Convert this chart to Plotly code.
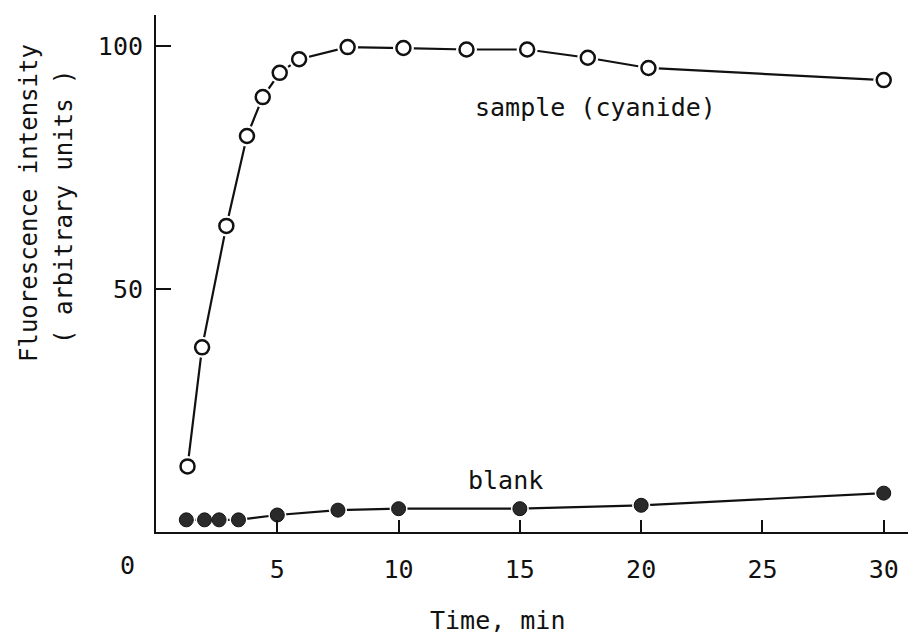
import plotly.graph_objects as go

# ---- data ----
sample_t = [1.3, 1.9, 2.9, 3.75, 4.4, 5.1, 5.9, 7.9, 10.2, 12.8, 15.3, 17.8, 20.3, 30]
sample_y = [13.5, 38, 63, 81.5, 89.5, 94.5, 97.3, 99.8, 99.6, 99.3, 99.3, 97.6, 95.5, 93]
blank_t = [1.25, 2.0, 2.6, 3.4, 5, 7.5, 10, 15, 20, 30]
blank_y = [2.5, 2.5, 2.5, 2.5, 3.5, 4.5, 4.8, 4.8, 5.5, 8]
x_ticks = [5, 10, 15, 20, 25, 30]
y_ticks = [50, 100]

FONT = "DejaVu Sans Mono"
INK = "#111111"
W, H = 908, 636
ML, MR, MT, MB = 156, 0, 15, 104

fig = go.Figure()

# connecting lines
fig.add_trace(go.Scatter(x=sample_t, y=sample_y, mode="lines",
                         line=dict(color=INK, width=2.2), hoverinfo="skip"))
fig.add_trace(go.Scatter(x=blank_t, y=blank_y, mode="lines",
                         line=dict(color=INK, width=2.2), hoverinfo="skip"))
# white halos (small gaps between line and markers)
fig.add_trace(go.Scatter(x=sample_t, y=sample_y, mode="markers",
                         marker=dict(size=21, color="white"), hoverinfo="skip"))
fig.add_trace(go.Scatter(x=blank_t, y=blank_y, mode="markers",
                         marker=dict(size=18, color="white"), hoverinfo="skip"))
# markers
fig.add_trace(go.Scatter(x=sample_t, y=sample_y, mode="markers", name="sample (cyanide)",
                         marker=dict(size=14, color="white", symbol="circle",
                                     line=dict(color=INK, width=2.5))))
fig.add_trace(go.Scatter(x=blank_t, y=blank_y, mode="markers", name="blank",
                         marker=dict(size=14, color="#2a2a2a", symbol="circle",
                                     line=dict(color=INK, width=1))))

def px_to_paper(px, py):
    pw = W - ML - MR
    ph = H - MT - MB
    return (px - ML) / pw, (H - MB - py) / ph

annos = []
# origin label
ox, oy = px_to_paper(127, 565)
annos.append(dict(x=ox, y=oy, xref="paper", yref="paper", text="0", showarrow=False,
                  xanchor="center", yanchor="middle", font=dict(family=FONT, size=25, color=INK)))
# x title
tx, ty = px_to_paper(497, 620)
annos.append(dict(x=tx, y=ty, xref="paper", yref="paper", text="Time, min", showarrow=False,
                  xanchor="center", yanchor="middle", font=dict(family=FONT, size=25, color=INK)))
# y title (two lines)
a1x, a1y = px_to_paper(29, 203)
annos.append(dict(x=a1x, y=a1y, xref="paper", yref="paper", text="Fluorescence intensity",
                  showarrow=False, textangle=-90, xanchor="center", yanchor="middle",
                  font=dict(family=FONT, size=24, color=INK)))
a2x, a2y = px_to_paper(64, 207)
annos.append(dict(x=a2x, y=a2y, xref="paper", yref="paper", text="( arbitrary units )",
                  showarrow=False, textangle=-90, xanchor="center", yanchor="middle",
                  font=dict(family=FONT, size=24, color=INK)))
# series labels
annos.append(dict(x=18.1, y=87.4, xref="x", yref="y", text="sample (cyanide)", showarrow=False,
                  xanchor="center", yanchor="middle", font=dict(family=FONT, size=25, color=INK)))
annos.append(dict(x=14.4, y=10.7, xref="x", yref="y", text="blank", showarrow=False,
                  xanchor="center", yanchor="middle", font=dict(family=FONT, size=25, color=INK)))

fig.update_layout(
    width=W, height=H,
    margin=dict(l=ML, r=MR, t=MT, b=MB),
    paper_bgcolor="white", plot_bgcolor="white",
    showlegend=False,
    annotations=annos,
    font=dict(family=FONT, size=25, color=INK),
)
fig.update_xaxes(range=[0, 31], tickvals=x_ticks, ticktext=[str(v) for v in x_ticks],
                 ticks="inside", ticklen=12, tickwidth=2, tickcolor=INK,
                 showline=True, linecolor=INK, linewidth=2, showgrid=False, zeroline=False,
                 tickfont=dict(family=FONT, size=25, color=INK), ticklabelstandoff=14)
fig.update_yaxes(range=[0, 106.4], tickvals=y_ticks, ticktext=[str(v) for v in y_ticks],
                 ticks="inside", ticklen=15, tickwidth=2, tickcolor=INK,
                 showline=True, linecolor=INK, linewidth=2, showgrid=False, zeroline=False,
                 tickfont=dict(family=FONT, size=25, color=INK), ticklabelstandoff=6)

fig.write_html("out.html")
